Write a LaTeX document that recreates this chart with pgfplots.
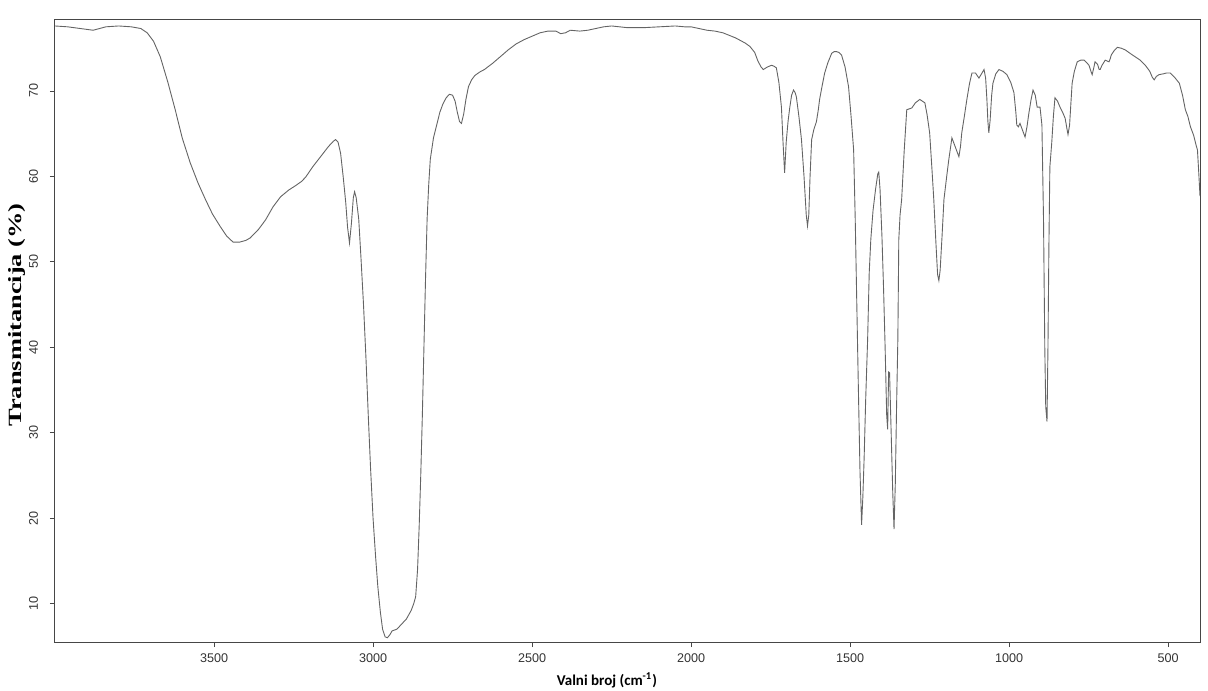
\documentclass[border=0pt]{standalone}
\usepackage{fontspec}
\setmainfont{Liberation Sans}
\newfontfamily\serifb{Liberation Serif}
\newfontfamily\carlito{Carlito}
\usepackage{pgfplots}
\pgfplotsset{compat=1.18}
\definecolor{axisgray}{RGB}{70,70,70}
\definecolor{curvegray}{RGB}{100,100,100}

\pgfplotstableread{
wn T
4000 77.6
3960 77.5
3920 77.3
3880 77.1
3860 77.3
3840 77.5
3800 77.6
3760 77.5
3730 77.3
3710 76.8
3690 75.8
3669 74.0
3645 71.0
3622 67.8
3600 64.5
3575 61.6
3550 59.2
3527 57.3
3505 55.6
3480 54.1
3460 53.0
3440 52.3
3420 52.3
3400 52.5
3386 52.8
3360 53.8
3338 54.9
3315 56.4
3291 57.6
3265 58.4
3244 58.9
3225 59.4
3212 59.9
3190 61.1
3165 62.3
3140 63.5
3125 64.1
3118 64.3
3110 64.0
3102 62.7
3094 60.0
3086 57.0
3080 54.0
3074 52.2
3068 54.5
3062 57.5
3058 58.2
3053 57.5
3045 55.0
3038 50.5
3030 45.0
3022 38.5
3015 32.0
3008 26.0
3000 20.0
2992 15.5
2985 12.0
2977 9.0
2970 7.0
2962 6.1
2955 6.0
2948 6.3
2940 6.8
2925 7.0
2910 7.6
2895 8.2
2880 9.2
2872 10.0
2866 10.8
2860 14.0
2855 19.0
2850 25.0
2845 32.0
2840 40.0
2835 48.0
2830 55.0
2825 59.0
2820 62.0
2810 64.5
2800 66.0
2790 67.5
2780 68.5
2770 69.2
2760 69.6
2750 69.5
2742 68.8
2735 67.5
2728 66.4
2722 66.2
2715 67.3
2708 69.0
2700 70.5
2690 71.3
2680 71.8
2665 72.2
2650 72.5
2625 73.2
2600 74.0
2575 74.8
2550 75.5
2525 76.0
2500 76.4
2475 76.8
2450 77.0
2425 77.0
2410 76.7
2395 76.8
2380 77.1
2350 77.0
2325 77.1
2300 77.3
2275 77.5
2250 77.6
2225 77.5
2200 77.4
2150 77.4
2100 77.5
2050 77.6
2020 77.5
2000 77.5
1975 77.3
1950 77.1
1925 77.0
1900 76.8
1880 76.5
1860 76.2
1845 75.9
1830 75.6
1815 75.2
1800 74.5
1790 73.5
1780 72.8
1773 72.5
1760 72.8
1747 73.0
1740 72.9
1732 72.7
1724 71.0
1716 68.1
1711 64.0
1706 60.4
1701 64.0
1695 66.5
1690 68.0
1684 69.5
1678 70.1
1673 69.8
1669 69.3
1661 67.0
1653 64.3
1645 60.0
1638 55.5
1634 54.2
1630 55.5
1626 60.0
1621 64.3
1614 65.5
1606 66.4
1600 67.8
1596 69.0
1588 70.6
1580 72.1
1570 73.3
1558 74.4
1550 74.6
1543 74.6
1535 74.5
1527 74.2
1516 72.8
1505 70.5
1497 67.0
1489 63.1
1484 55.0
1479 45.0
1474 35.0
1469 25.5
1464 19.2
1460 22.5
1456 27.0
1451 34.0
1445 40.9
1440 48.7
1435 52.6
1428 56.0
1420 58.5
1413 60.3
1410 60.5
1406 58.5
1400 53.0
1395 47.0
1390 40.0
1385 32.0
1382 30.4
1379 37.1
1376 37.0
1371 30.0
1366 23.0
1362 18.7
1358 24.0
1354 33.0
1350 40.9
1347 52.6
1343 55.5
1338 57.3
1330 63.0
1322 67.8
1314 67.9
1306 68.0
1295 68.6
1281 69.0
1265 68.6
1258 67.2
1250 65.1
1243 61.0
1237 57.3
1230 52.0
1225 48.5
1221 47.8
1217 49.0
1211 53.0
1205 57.3
1197 59.8
1190 61.9
1185 63.2
1180 64.5
1170 63.5
1163 62.8
1158 62.3
1153 63.5
1149 65.1
1141 67.0
1133 69.0
1125 70.8
1117 72.1
1106 72.1
1095 71.5
1087 72.0
1079 72.5
1074 71.5
1070 69.0
1067 66.5
1064 65.1
1060 66.5
1055 69.5
1051 70.9
1042 72.0
1032 72.5
1020 72.3
1007 71.9
995 71.0
985 69.8
979 67.5
976 66.0
971 65.8
966 66.2
958 65.4
950 64.6
944 65.8
938 67.4
931 69.0
925 70.1
918 69.5
912 68.1
903 68.1
897 66.0
892 55.0
888 40.0
885 33.0
881 31.3
878 40.0
875 52.0
872 61.1
866 64.0
861 67.0
856 69.2
848 68.8
840 68.1
832 67.5
824 66.8
818 65.5
815 64.9
810 66.0
806 68.5
802 70.9
795 72.3
786 73.4
775 73.6
764 73.6
756 73.3
749 73.0
743 72.3
739 71.9
734 72.7
730 73.4
722 73.1
717 72.5
714 72.5
708 73.0
698 73.6
692 73.5
686 73.4
682 73.8
679 74.2
670 74.7
660 75.1
648 75.0
635 74.8
620 74.4
604 74.0
588 73.6
572 73.0
558 72.3
550 71.6
544 71.3
537 71.7
529 71.9
515 72.0
505 72.1
494 72.1
480 71.6
465 70.9
455 69.5
446 67.8
438 67.0
430 65.8
420 64.8
412 63.6
408 63.1
404 60.5
400 57.7
}\spectrum

\begin{document}
\begin{tikzpicture}
% page = 1208 x 690 px at 0.5pt per px
\path[use as bounding box] (0,0) rectangle (604pt,345pt);
\begin{axis}[
    at={(27.5pt,24pt)}, anchor=south west,
    scale only axis,
    width=572.5pt, height=311pt,
    x dir=reverse,
    xmin=400, xmax=4000,
    ymin=5.5, ymax=78.3,
    xtick={500,1000,...,3500},
    ytick={10,20,...,70},
    xtick pos=bottom, ytick pos=left,
    tick align=outside,
    major tick length=2.5pt,
    axis line style={axisgray, line width=0.5pt},
    every tick/.style={axisgray, line width=0.4pt},
    /pgf/number format/assume math mode=true,
    /pgf/number format/1000 sep={},
    ticklabel style={font=\fontsize{6.3}{7}\selectfont, text=black!80},
    yticklabel style={rotate=90, anchor=south, yshift=2.5pt},
    xlabel={\carlito\bfseries Valni broj (cm\textsuperscript{-1})},
    xlabel style={at={(axis description cs:0.482,0)}, anchor=north, yshift=-12pt, font=\fontsize{7.5}{8}\selectfont},
    ylabel={\scalebox{1.2}[0.85]{\serifb\bfseries Transmitancija (\%)}},
    ylabel style={at={(axis description cs:0,0.526)}, anchor=south, yshift=11pt, font=\fontsize{11}{12}\selectfont},
]
\addplot[curvegray, line width=0.45pt, mark=none] table[x=wn, y=T] {\spectrum};
\end{axis}
\end{tikzpicture}
\end{document}
